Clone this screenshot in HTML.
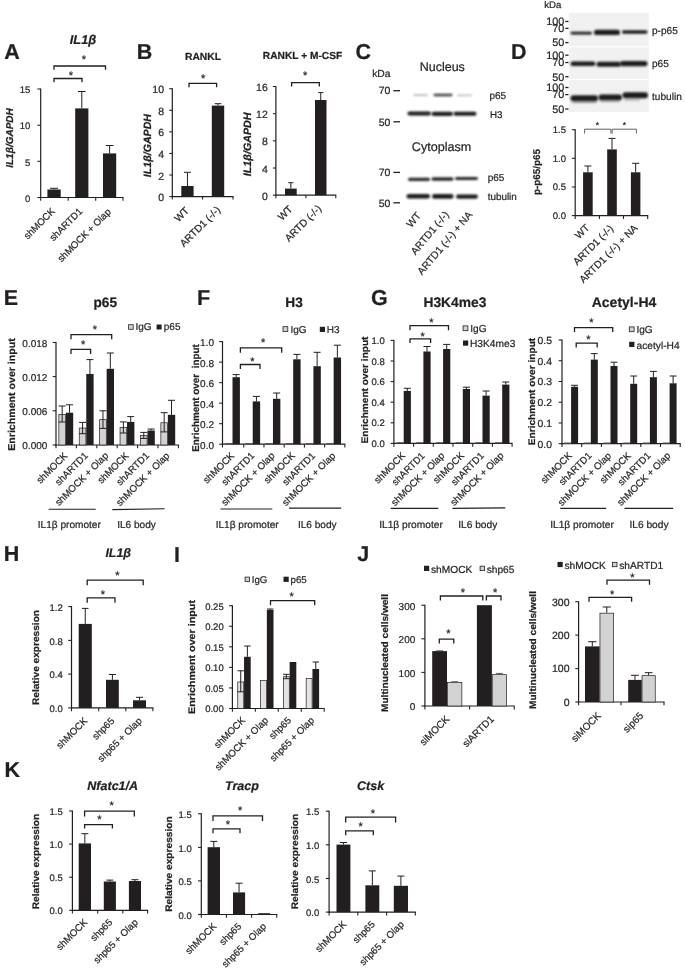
<!DOCTYPE html>
<html lang="en">
<head>
<meta charset="utf-8">
<title>Figure</title>
<style>
html,body{margin:0;padding:0;background:#fff;}
body{width:685px;height:974px;overflow:hidden;}
svg{display:block;font-family:"Liberation Sans",Arial,Helvetica,sans-serif;fill:#2b2829;}
svg text{stroke:#231f20;stroke-width:0.22px;text-rendering:geometricPrecision;}
</style>
</head>
<body>
<svg width="685" height="974" viewBox="0 0 685 974">
<defs><filter id="b5" x="-20%" y="-150%" width="140%" height="400%"><feGaussianBlur stdDeviation="0.5"/></filter><filter id="b7" x="-20%" y="-150%" width="140%" height="400%"><feGaussianBlur stdDeviation="0.7"/></filter><filter id="b9" x="-20%" y="-150%" width="140%" height="400%"><feGaussianBlur stdDeviation="0.9"/></filter><filter id="b12" x="-20%" y="-150%" width="140%" height="400%"><feGaussianBlur stdDeviation="1.2"/></filter></defs>
<rect x="0" y="0" width="685" height="974" fill="#ffffff"/>
<g opacity="0.999">
<text x="4.3" y="58.8" font-size="21.5" font-weight="bold" fill="#231f20">A</text>
<text x="83" y="43.8" font-size="12.8" text-anchor="middle" font-weight="bold" font-style="italic" fill="#231f20">IL1β</text>
<line x1="40.7" y1="88.5" x2="40.7" y2="198" stroke="#231f20" stroke-width="1.2"/>
<line x1="40.2" y1="197.5" x2="123.5" y2="197.5" stroke="#231f20" stroke-width="1.2"/>
<line x1="37.4" y1="89" x2="40.7" y2="89" stroke="#231f20" stroke-width="1.08"/>
<text x="30.4" y="93.22" font-size="9.5" text-anchor="end">15</text>
<line x1="37.4" y1="125.2" x2="40.7" y2="125.2" stroke="#231f20" stroke-width="1.08"/>
<text x="30.4" y="129.42" font-size="9.5" text-anchor="end">10</text>
<line x1="37.4" y1="161.3" x2="40.7" y2="161.3" stroke="#231f20" stroke-width="1.08"/>
<text x="30.4" y="165.52" font-size="9.5" text-anchor="end">5</text>
<line x1="37.4" y1="197.5" x2="40.7" y2="197.5" stroke="#231f20" stroke-width="1.08"/>
<text x="30.4" y="201.72" font-size="9.5" text-anchor="end">0</text>
<line x1="40.7" y1="197.5" x2="40.7" y2="200.8" stroke="#231f20" stroke-width="1.08"/>
<line x1="68.2" y1="197.5" x2="68.2" y2="200.8" stroke="#231f20" stroke-width="1.08"/>
<line x1="95.7" y1="197.5" x2="95.7" y2="200.8" stroke="#231f20" stroke-width="1.08"/>
<line x1="123" y1="197.5" x2="123" y2="200.8" stroke="#231f20" stroke-width="1.08"/>
<rect x="47.4" y="189.5" width="13.3" height="8" fill="#231f20"/>
<line x1="54.05" y1="188.3" x2="54.05" y2="189.5" stroke="#231f20" stroke-width="1"/>
<line x1="50.05" y1="188.3" x2="58.05" y2="188.3" stroke="#231f20" stroke-width="1"/>
<rect x="75.2" y="108.4" width="13.2" height="89.1" fill="#231f20"/>
<line x1="81.8" y1="91.5" x2="81.8" y2="108.4" stroke="#231f20" stroke-width="1"/>
<line x1="78" y1="91.5" x2="85.6" y2="91.5" stroke="#231f20" stroke-width="1"/>
<rect x="103" y="153.4" width="13.2" height="44.1" fill="#231f20"/>
<line x1="109.6" y1="145.5" x2="109.6" y2="153.4" stroke="#231f20" stroke-width="1"/>
<line x1="105.8" y1="145.5" x2="113.4" y2="145.5" stroke="#231f20" stroke-width="1"/>
<polyline points="54,69.8 54,66 105.5,66 105.5,69.8" fill="none" stroke="#231f20" stroke-width="1.3"/>
<text x="84" y="63.38" font-size="11" text-anchor="middle" fill="#231f20">*</text>
<polyline points="54,82.3 54,78.5 82,78.5 82,82.3" fill="none" stroke="#231f20" stroke-width="1.3"/>
<text x="71" y="79.38" font-size="11" text-anchor="middle" fill="#231f20">*</text>
<text x="13.1" y="138" font-size="10" text-anchor="middle" font-weight="bold" font-style="italic" transform="rotate(-90 13.1 138)" fill="#231f20">IL1β/GAPDH</text>
<text x="55.5" y="212" font-size="9.7" text-anchor="end" transform="rotate(-45 55.5 212)">shMOCK</text>
<text x="83" y="212" font-size="9.7" text-anchor="end" transform="rotate(-45 83 212)">shARTD1</text>
<text x="111.5" y="212.5" font-size="9.7" text-anchor="end" transform="rotate(-45 111.5 212.5)">shMOCK + Olap</text>
<text x="136.8" y="59" font-size="21.5" font-weight="bold" fill="#231f20">B</text>
<text x="203" y="59.9" font-size="10.3" text-anchor="middle" font-weight="bold" fill="#231f20">RANKL</text>
<text x="302.5" y="59" font-size="10.2" text-anchor="middle" font-weight="bold" fill="#231f20">RANKL + M-CSF</text>
<line x1="172.3" y1="88.2" x2="172.3" y2="197.1" stroke="#231f20" stroke-width="1.2"/>
<line x1="171.8" y1="196.6" x2="233.5" y2="196.6" stroke="#231f20" stroke-width="1.2"/>
<line x1="169.3" y1="88.7" x2="172.3" y2="88.7" stroke="#231f20" stroke-width="1.08"/>
<text x="164" y="93.28" font-size="10.5" text-anchor="end">10</text>
<line x1="169.3" y1="110.28" x2="172.3" y2="110.28" stroke="#231f20" stroke-width="1.08"/>
<text x="164" y="114.86" font-size="10.5" text-anchor="end">8</text>
<line x1="169.3" y1="131.86" x2="172.3" y2="131.86" stroke="#231f20" stroke-width="1.08"/>
<text x="164" y="136.44" font-size="10.5" text-anchor="end">6</text>
<line x1="169.3" y1="153.44" x2="172.3" y2="153.44" stroke="#231f20" stroke-width="1.08"/>
<text x="164" y="158.02" font-size="10.5" text-anchor="end">4</text>
<line x1="169.3" y1="175.02" x2="172.3" y2="175.02" stroke="#231f20" stroke-width="1.08"/>
<text x="164" y="179.6" font-size="10.5" text-anchor="end">2</text>
<line x1="169.3" y1="196.6" x2="172.3" y2="196.6" stroke="#231f20" stroke-width="1.08"/>
<text x="164" y="201.18" font-size="10.5" text-anchor="end">0</text>
<line x1="172.3" y1="196.6" x2="172.3" y2="199.6" stroke="#231f20" stroke-width="1.08"/>
<line x1="202.6" y1="196.6" x2="202.6" y2="199.6" stroke="#231f20" stroke-width="1.08"/>
<line x1="233" y1="196.6" x2="233" y2="199.6" stroke="#231f20" stroke-width="1.08"/>
<rect x="181.3" y="186" width="12.3" height="10.6" fill="#231f20"/>
<line x1="187.45" y1="172.3" x2="187.45" y2="186" stroke="#231f20" stroke-width="1"/>
<line x1="184.05" y1="172.3" x2="190.85" y2="172.3" stroke="#231f20" stroke-width="1"/>
<rect x="211.8" y="105.6" width="12.4" height="91" fill="#231f20"/>
<line x1="218" y1="103.7" x2="218" y2="105.6" stroke="#231f20" stroke-width="1"/>
<line x1="214.7" y1="103.7" x2="221.3" y2="103.7" stroke="#231f20" stroke-width="1"/>
<polyline points="189,87.3 189,83.3 216.6,83.3 216.6,87.3" fill="none" stroke="#231f20" stroke-width="1.3"/>
<text x="203.2" y="81.58" font-size="11" text-anchor="middle" fill="#231f20">*</text>
<text x="150.8" y="145.6" font-size="10.6" text-anchor="middle" font-weight="bold" font-style="italic" transform="rotate(-90 150.8 145.6)" fill="#231f20">IL1β/GAPDH</text>
<text x="189.6" y="211.4" font-size="10.2" text-anchor="end" transform="rotate(-45 189.6 211.4)">WT</text>
<text x="221" y="210.4" font-size="10.2" text-anchor="end" transform="rotate(-45 221 210.4)">ARTD1 (-/-)</text>
<line x1="275.9" y1="86" x2="275.9" y2="195.7" stroke="#231f20" stroke-width="1.2"/>
<line x1="275.4" y1="195.2" x2="336.3" y2="195.2" stroke="#231f20" stroke-width="1.2"/>
<line x1="272.9" y1="86.5" x2="275.9" y2="86.5" stroke="#231f20" stroke-width="1.08"/>
<text x="267.8" y="91.08" font-size="10.5" text-anchor="end">16</text>
<line x1="272.9" y1="113.67" x2="275.9" y2="113.67" stroke="#231f20" stroke-width="1.08"/>
<text x="267.8" y="118.25" font-size="10.5" text-anchor="end">12</text>
<line x1="272.9" y1="140.85" x2="275.9" y2="140.85" stroke="#231f20" stroke-width="1.08"/>
<text x="267.8" y="145.43" font-size="10.5" text-anchor="end">8</text>
<line x1="272.9" y1="168.02" x2="275.9" y2="168.02" stroke="#231f20" stroke-width="1.08"/>
<text x="267.8" y="172.6" font-size="10.5" text-anchor="end">4</text>
<line x1="272.9" y1="195.2" x2="275.9" y2="195.2" stroke="#231f20" stroke-width="1.08"/>
<text x="267.8" y="199.78" font-size="10.5" text-anchor="end">0</text>
<line x1="275.9" y1="195.2" x2="275.9" y2="198.2" stroke="#231f20" stroke-width="1.08"/>
<line x1="305.9" y1="195.2" x2="305.9" y2="198.2" stroke="#231f20" stroke-width="1.08"/>
<line x1="335.8" y1="195.2" x2="335.8" y2="198.2" stroke="#231f20" stroke-width="1.08"/>
<rect x="285" y="188.6" width="11.7" height="6.6" fill="#231f20"/>
<line x1="290.85" y1="182.7" x2="290.85" y2="188.6" stroke="#231f20" stroke-width="1"/>
<line x1="288.25" y1="182.7" x2="293.45" y2="182.7" stroke="#231f20" stroke-width="1"/>
<rect x="315" y="100" width="11.5" height="95.2" fill="#231f20"/>
<line x1="320.75" y1="92.6" x2="320.75" y2="100" stroke="#231f20" stroke-width="1"/>
<line x1="318.15" y1="92.6" x2="323.35" y2="92.6" stroke="#231f20" stroke-width="1"/>
<polyline points="291.6,86.6 291.6,82.6 319.3,82.6 319.3,86.6" fill="none" stroke="#231f20" stroke-width="1.3"/>
<text x="305.2" y="78.78" font-size="11" text-anchor="middle" fill="#231f20">*</text>
<text x="251.2" y="144.3" font-size="10.7" text-anchor="middle" font-weight="bold" font-style="italic" transform="rotate(-90 251.2 144.3)" fill="#231f20">IL1β/GAPDH</text>
<text x="293.2" y="209.8" font-size="10.2" text-anchor="end" transform="rotate(-45 293.2 209.8)">WT</text>
<text x="322" y="209.2" font-size="10.2" text-anchor="end" transform="rotate(-45 322 209.2)">ARTD (-/-)</text>
<text x="355.5" y="59" font-size="21.5" font-weight="bold" fill="#231f20">C</text>
<text x="442.3" y="70.8" font-size="12.5" text-anchor="middle">Nucleus</text>
<text x="372.2" y="76.8" font-size="10.3">kDa</text>
<text x="390.4" y="94.48" font-size="10.5" text-anchor="end">70</text>
<line x1="393.4" y1="90.7" x2="400" y2="90.7" stroke="#231f20" stroke-width="1.3"/>
<text x="390.4" y="125.58" font-size="10.5" text-anchor="end">50</text>
<line x1="393.4" y1="121.8" x2="400" y2="121.8" stroke="#231f20" stroke-width="1.3"/>
<text x="390.4" y="176.18" font-size="10.5" text-anchor="end">70</text>
<line x1="393.4" y1="172.4" x2="400" y2="172.4" stroke="#231f20" stroke-width="1.3"/>
<text x="390.4" y="206.58" font-size="10.5" text-anchor="end">50</text>
<line x1="393.4" y1="202.8" x2="400" y2="202.8" stroke="#231f20" stroke-width="1.3"/>
<rect x="413" y="94.3" width="15" height="1.8" rx="0.9" fill="#1c1a1b" opacity="0.3" filter="url(#b9)"/>
<rect x="433.5" y="93.7" width="19" height="2.6" rx="1.3" fill="#1c1a1b" opacity="0.85" filter="url(#b9)"/>
<rect x="457" y="94.6" width="15" height="1.6" rx="0.8" fill="#1c1a1b" opacity="0.28" filter="url(#b9)"/>
<rect x="407.5" y="111.4" width="23.5" height="4.2" rx="2.1" fill="#1c1a1b" opacity="1" filter="url(#b9)"/>
<rect x="431.5" y="111.7" width="21.5" height="4.2" rx="2.1" fill="#1c1a1b" opacity="1" filter="url(#b9)"/>
<rect x="453.5" y="111.8" width="23" height="4" rx="2" fill="#1c1a1b" opacity="1" filter="url(#b9)"/>
<text x="489.5" y="99.2" font-size="10">p65</text>
<text x="490" y="117.6" font-size="9.8">H3</text>
<text x="441.6" y="151.4" font-size="12.6" text-anchor="middle">Cytoplasm</text>
<rect x="408" y="177.7" width="22" height="3.2" rx="1.6" fill="#1c1a1b" opacity="0.95" filter="url(#b9)"/>
<rect x="431.5" y="177.3" width="22" height="3.4" rx="1.7" fill="#1c1a1b" opacity="0.95" filter="url(#b9)"/>
<rect x="455" y="176.9" width="23" height="3.2" rx="1.6" fill="#1c1a1b" opacity="0.95" filter="url(#b9)"/>
<rect x="406.5" y="193.9" width="23.5" height="4.6" rx="2.3" fill="#1c1a1b" opacity="1" filter="url(#b9)"/>
<rect x="432" y="194.1" width="21.5" height="4.6" rx="2.3" fill="#1c1a1b" opacity="1" filter="url(#b9)"/>
<rect x="456" y="194.5" width="22" height="4.2" rx="2.1" fill="#1c1a1b" opacity="1" filter="url(#b9)"/>
<text x="487.7" y="181.2" font-size="10">p65</text>
<text x="487.7" y="199.8" font-size="9.9">tubulin</text>
<text x="421.5" y="216" font-size="10.3" text-anchor="end" transform="rotate(-50 421.5 216)">WT</text>
<text x="449.5" y="214.8" font-size="10.3" text-anchor="end" transform="rotate(-50 449.5 214.8)">ARTD1 (-/-)</text>
<text x="472.8" y="215" font-size="10.3" text-anchor="end" transform="rotate(-50 472.8 215)">ARTD1 (-/-) + NA</text>
<text x="511" y="58.5" font-size="21.5" font-weight="bold" fill="#231f20">D</text>
<text x="544.3" y="8" font-size="9.6">kDa</text>
<rect x="568.8" y="13" width="80" height="33.2" fill="#f1f1f1"/>
<rect x="568.8" y="47.4" width="80" height="31.6" fill="#f1f1f1"/>
<rect x="568.8" y="80.2" width="80" height="31.8" fill="#f1f1f1"/>
<text x="564.3" y="25.39" font-size="10.8" text-anchor="end">100</text>
<line x1="565.3" y1="21.5" x2="568.5" y2="21.5" stroke="#231f20" stroke-width="1.3"/>
<text x="564.3" y="32.29" font-size="10.8" text-anchor="end">70</text>
<line x1="565.3" y1="28.4" x2="568.5" y2="28.4" stroke="#231f20" stroke-width="1.3"/>
<text x="564.3" y="46.49" font-size="10.8" text-anchor="end">50</text>
<line x1="565.3" y1="42.6" x2="568.5" y2="42.6" stroke="#231f20" stroke-width="1.3"/>
<text x="564.3" y="59.09" font-size="10.8" text-anchor="end">100</text>
<line x1="565.3" y1="55.2" x2="568.5" y2="55.2" stroke="#231f20" stroke-width="1.3"/>
<text x="564.3" y="66.39" font-size="10.8" text-anchor="end">70</text>
<line x1="565.3" y1="62.5" x2="568.5" y2="62.5" stroke="#231f20" stroke-width="1.3"/>
<text x="564.3" y="80.59" font-size="10.8" text-anchor="end">50</text>
<line x1="565.3" y1="76.7" x2="568.5" y2="76.7" stroke="#231f20" stroke-width="1.3"/>
<text x="564.3" y="91.39" font-size="10.8" text-anchor="end">100</text>
<line x1="565.3" y1="87.5" x2="568.5" y2="87.5" stroke="#231f20" stroke-width="1.3"/>
<text x="564.3" y="98.49" font-size="10.8" text-anchor="end">70</text>
<line x1="565.3" y1="94.6" x2="568.5" y2="94.6" stroke="#231f20" stroke-width="1.3"/>
<text x="564.3" y="112.89" font-size="10.8" text-anchor="end">50</text>
<line x1="565.3" y1="109" x2="568.5" y2="109" stroke="#231f20" stroke-width="1.3"/>
<rect x="570.5" y="31.65" width="21.5" height="2.9" rx="1.45" fill="#1c1a1b" opacity="1" filter="url(#b9)"/>
<rect x="594" y="29.7" width="26" height="5.4" rx="2.7" fill="#1c1a1b" opacity="1" filter="url(#b9)"/>
<rect x="622" y="30.3" width="25.5" height="3.4" rx="1.7" fill="#1c1a1b" opacity="1" filter="url(#b9)"/>
<rect x="570.5" y="61.5" width="25" height="4.6" rx="2.3" fill="#1c1a1b" opacity="1" filter="url(#b9)"/>
<rect x="596.5" y="61.7" width="24.5" height="5" rx="2.5" fill="#1c1a1b" opacity="1" filter="url(#b9)"/>
<rect x="620" y="61" width="27.5" height="5.2" rx="2.6" fill="#1c1a1b" opacity="1" filter="url(#b9)"/>
<rect x="570.5" y="95.3" width="27.5" height="6" rx="3" fill="#1c1a1b" opacity="1" filter="url(#b9)"/>
<rect x="598.5" y="94.6" width="23.5" height="5.6" rx="2.8" fill="#1c1a1b" opacity="1" filter="url(#b9)"/>
<rect x="622.5" y="92.2" width="25.5" height="6" rx="3" fill="#1c1a1b" opacity="1" filter="url(#b9)"/>
<rect x="572" y="101.4" width="25" height="1.6" rx="0.8" fill="#1c1a1b" opacity="0.45" filter="url(#b9)"/>
<rect x="600" y="100.5" width="20" height="1.6" rx="0.8" fill="#1c1a1b" opacity="0.4" filter="url(#b9)"/>
<rect x="624" y="99.1" width="16" height="1.4" rx="0.7" fill="#1c1a1b" opacity="0.35" filter="url(#b9)"/>
<text x="652" y="33.8" font-size="10.1">p-p65</text>
<text x="652" y="66.6" font-size="10.1">p65</text>
<text x="652" y="99.6" font-size="10.1">tubulin</text>
<line x1="575.2" y1="129.2" x2="575.2" y2="216.1" stroke="#231f20" stroke-width="1.2"/>
<line x1="574.7" y1="215.6" x2="648.2" y2="215.6" stroke="#231f20" stroke-width="1.2"/>
<line x1="571.9" y1="129.7" x2="575.2" y2="129.7" stroke="#231f20" stroke-width="1.08"/>
<text x="566" y="133.12" font-size="9.5" text-anchor="end">1.5</text>
<line x1="571.9" y1="158.3" x2="575.2" y2="158.3" stroke="#231f20" stroke-width="1.08"/>
<text x="566" y="161.72" font-size="9.5" text-anchor="end">1.0</text>
<line x1="571.9" y1="187" x2="575.2" y2="187" stroke="#231f20" stroke-width="1.08"/>
<text x="566" y="190.42" font-size="9.5" text-anchor="end">0.5</text>
<line x1="571.9" y1="215.6" x2="575.2" y2="215.6" stroke="#231f20" stroke-width="1.08"/>
<text x="566" y="219.02" font-size="9.5" text-anchor="end">0.0</text>
<line x1="575.2" y1="215.6" x2="575.2" y2="218.9" stroke="#231f20" stroke-width="1.08"/>
<line x1="599.4" y1="215.6" x2="599.4" y2="218.9" stroke="#231f20" stroke-width="1.08"/>
<line x1="623.5" y1="215.6" x2="623.5" y2="218.9" stroke="#231f20" stroke-width="1.08"/>
<line x1="647.7" y1="215.6" x2="647.7" y2="218.9" stroke="#231f20" stroke-width="1.08"/>
<rect x="583.1" y="172.3" width="9.6" height="43.3" fill="#231f20"/>
<line x1="587.9" y1="166" x2="587.9" y2="172.3" stroke="#231f20" stroke-width="1"/>
<line x1="584.4" y1="166" x2="591.4" y2="166" stroke="#231f20" stroke-width="1"/>
<rect x="607.2" y="149.4" width="9.6" height="66.2" fill="#231f20"/>
<line x1="612" y1="138.4" x2="612" y2="149.4" stroke="#231f20" stroke-width="1"/>
<line x1="608.5" y1="138.4" x2="615.5" y2="138.4" stroke="#231f20" stroke-width="1"/>
<rect x="630.9" y="172.3" width="9.5" height="43.3" fill="#231f20"/>
<line x1="635.65" y1="163.3" x2="635.65" y2="172.3" stroke="#231f20" stroke-width="1"/>
<line x1="632.15" y1="163.3" x2="639.15" y2="163.3" stroke="#231f20" stroke-width="1"/>
<polyline points="584.6,133.6 584.6,129.2 610.9,129.2 610.9,133.6" fill="none" stroke="#231f20" stroke-width="0.7"/>
<text x="597.5" y="127.93" font-size="8.5" text-anchor="middle" fill="#231f20">*</text>
<polyline points="612.2,133.6 612.2,129.2 636.4,129.2 636.4,133.6" fill="none" stroke="#231f20" stroke-width="0.7"/>
<text x="624.5" y="127.93" font-size="8.5" text-anchor="middle" fill="#231f20">*</text>
<text x="540" y="172" font-size="9.8" text-anchor="middle" font-weight="bold" transform="rotate(-90 540 172)" fill="#231f20">p-p65/p65</text>
<text x="590" y="228.5" font-size="10.1" text-anchor="end" transform="rotate(-45 590 228.5)">WT</text>
<text x="614" y="229" font-size="10.1" text-anchor="end" transform="rotate(-45 614 229)">ARTD1 (-/-)</text>
<text x="638.4" y="228.7" font-size="10.1" text-anchor="end" transform="rotate(-45 638.4 228.7)">ARTD1 (-/-) + NA</text>
<text x="3.8" y="305" font-size="21.5" font-weight="bold" fill="#231f20">E</text>
<text x="105.3" y="306.7" font-size="13.7" text-anchor="middle" font-weight="bold" fill="#231f20">p65</text>
<line x1="56" y1="342" x2="56" y2="445.5" stroke="#231f20" stroke-width="1.2"/>
<line x1="55.5" y1="445" x2="178.9" y2="445" stroke="#231f20" stroke-width="1.2"/>
<line x1="52.7" y1="342.5" x2="56" y2="342.5" stroke="#231f20" stroke-width="1.08"/>
<text x="47.4" y="346.9" font-size="10" text-anchor="end">0.018</text>
<line x1="52.7" y1="376.6" x2="56" y2="376.6" stroke="#231f20" stroke-width="1.08"/>
<text x="47.4" y="381" font-size="10" text-anchor="end">0.012</text>
<line x1="52.7" y1="410.8" x2="56" y2="410.8" stroke="#231f20" stroke-width="1.08"/>
<text x="47.4" y="415.2" font-size="10" text-anchor="end">0.006</text>
<line x1="52.7" y1="445" x2="56" y2="445" stroke="#231f20" stroke-width="1.08"/>
<text x="47.4" y="449.4" font-size="10" text-anchor="end">0.000</text>
<line x1="56" y1="445" x2="56" y2="448.3" stroke="#231f20" stroke-width="1.08"/>
<line x1="76.4" y1="445" x2="76.4" y2="448.3" stroke="#231f20" stroke-width="1.08"/>
<line x1="96.8" y1="445" x2="96.8" y2="448.3" stroke="#231f20" stroke-width="1.08"/>
<line x1="117.2" y1="445" x2="117.2" y2="448.3" stroke="#231f20" stroke-width="1.08"/>
<line x1="137.6" y1="445" x2="137.6" y2="448.3" stroke="#231f20" stroke-width="1.08"/>
<line x1="158" y1="445" x2="158" y2="448.3" stroke="#231f20" stroke-width="1.08"/>
<line x1="178.4" y1="445" x2="178.4" y2="448.3" stroke="#231f20" stroke-width="1.08"/>
<rect x="58.85" y="414.35" width="6.65" height="30.65" fill="#d2d2d2" stroke="#231f20" stroke-width="0.7"/>
<line x1="62.17" y1="406" x2="62.17" y2="422" stroke="#231f20" stroke-width="1"/>
<line x1="58.67" y1="406" x2="65.67" y2="406" stroke="#231f20" stroke-width="1"/>
<line x1="58.67" y1="422" x2="65.67" y2="422" stroke="#231f20" stroke-width="1"/>
<rect x="65.85" y="412.7" width="7.35" height="32.3" fill="#231f20"/>
<line x1="69.53" y1="404.8" x2="69.53" y2="412.7" stroke="#231f20" stroke-width="1"/>
<line x1="66.03" y1="404.8" x2="73.03" y2="404.8" stroke="#231f20" stroke-width="1"/>
<rect x="79.25" y="428.05" width="6.65" height="16.95" fill="#d2d2d2" stroke="#231f20" stroke-width="0.7"/>
<line x1="82.58" y1="422.4" x2="82.58" y2="433.7" stroke="#231f20" stroke-width="1"/>
<line x1="79.08" y1="422.4" x2="86.08" y2="422.4" stroke="#231f20" stroke-width="1"/>
<line x1="79.08" y1="433.7" x2="86.08" y2="433.7" stroke="#231f20" stroke-width="1"/>
<rect x="86.25" y="374" width="7.35" height="71" fill="#231f20"/>
<line x1="89.93" y1="359.6" x2="89.93" y2="374" stroke="#231f20" stroke-width="1"/>
<line x1="86.43" y1="359.6" x2="93.43" y2="359.6" stroke="#231f20" stroke-width="1"/>
<rect x="99.65" y="419.65" width="6.65" height="25.35" fill="#d2d2d2" stroke="#231f20" stroke-width="0.7"/>
<line x1="102.97" y1="410.8" x2="102.97" y2="428.4" stroke="#231f20" stroke-width="1"/>
<line x1="99.47" y1="410.8" x2="106.47" y2="410.8" stroke="#231f20" stroke-width="1"/>
<line x1="99.47" y1="428.4" x2="106.47" y2="428.4" stroke="#231f20" stroke-width="1"/>
<rect x="106.65" y="368.8" width="7.35" height="76.2" fill="#231f20"/>
<line x1="110.32" y1="353" x2="110.32" y2="368.8" stroke="#231f20" stroke-width="1"/>
<line x1="106.82" y1="353" x2="113.82" y2="353" stroke="#231f20" stroke-width="1"/>
<rect x="120.05" y="427.35" width="6.65" height="17.65" fill="#d2d2d2" stroke="#231f20" stroke-width="0.7"/>
<line x1="123.37" y1="421.9" x2="123.37" y2="433" stroke="#231f20" stroke-width="1"/>
<line x1="119.87" y1="421.9" x2="126.87" y2="421.9" stroke="#231f20" stroke-width="1"/>
<line x1="119.87" y1="433" x2="126.87" y2="433" stroke="#231f20" stroke-width="1"/>
<rect x="127.05" y="421.9" width="7.35" height="23.1" fill="#231f20"/>
<line x1="130.72" y1="416.6" x2="130.72" y2="421.9" stroke="#231f20" stroke-width="1"/>
<line x1="127.22" y1="416.6" x2="134.22" y2="416.6" stroke="#231f20" stroke-width="1"/>
<rect x="140.45" y="435.35" width="6.65" height="9.65" fill="#d2d2d2" stroke="#231f20" stroke-width="0.7"/>
<line x1="143.77" y1="432.4" x2="143.77" y2="438.4" stroke="#231f20" stroke-width="1"/>
<line x1="140.27" y1="432.4" x2="147.27" y2="432.4" stroke="#231f20" stroke-width="1"/>
<line x1="140.27" y1="438.4" x2="147.27" y2="438.4" stroke="#231f20" stroke-width="1"/>
<rect x="147.45" y="430.5" width="7.35" height="14.5" fill="#231f20"/>
<line x1="151.12" y1="429" x2="151.12" y2="430.5" stroke="#231f20" stroke-width="1"/>
<line x1="147.62" y1="429" x2="154.62" y2="429" stroke="#231f20" stroke-width="1"/>
<rect x="160.85" y="422.75" width="6.65" height="22.25" fill="#d2d2d2" stroke="#231f20" stroke-width="0.7"/>
<line x1="164.18" y1="412.7" x2="164.18" y2="431.9" stroke="#231f20" stroke-width="1"/>
<line x1="160.68" y1="412.7" x2="167.68" y2="412.7" stroke="#231f20" stroke-width="1"/>
<line x1="160.68" y1="431.9" x2="167.68" y2="431.9" stroke="#231f20" stroke-width="1"/>
<rect x="167.85" y="414.8" width="7.35" height="30.2" fill="#231f20"/>
<line x1="171.52" y1="400.3" x2="171.52" y2="414.8" stroke="#231f20" stroke-width="1"/>
<line x1="168.02" y1="400.3" x2="175.02" y2="400.3" stroke="#231f20" stroke-width="1"/>
<polyline points="71,339.2 71,334.6 111.7,334.6 111.7,339.2" fill="none" stroke="#231f20" stroke-width="1.3"/>
<text x="95" y="332.98" font-size="11" text-anchor="middle" fill="#231f20">*</text>
<polyline points="71,354 71,349.4 90.6,349.4 90.6,354" fill="none" stroke="#231f20" stroke-width="1.3"/>
<text x="83.2" y="347.78" font-size="11" text-anchor="middle" fill="#231f20">*</text>
<rect x="128.6" y="324.7" width="4.6" height="4.6" fill="#d2d2d2" stroke="#231f20" stroke-width="0.8"/>
<text x="135.4" y="330.3" font-size="10">IgG</text>
<rect x="156.6" y="324.5" width="5" height="5" fill="#231f20"/>
<text x="163.8" y="330.3" font-size="10">p65</text>
<text x="15.4" y="394.5" font-size="10" text-anchor="middle" font-weight="bold" transform="rotate(-90 15.4 394.5)" fill="#231f20" textLength="112.5" lengthAdjust="spacingAndGlyphs">Enrichment over input</text>
<text x="68.2" y="456.3" font-size="9.7" text-anchor="end" transform="rotate(-45 68.2 456.3)">shMOCK</text>
<text x="88.6" y="456.3" font-size="9.7" text-anchor="end" transform="rotate(-45 88.6 456.3)">shARTD1</text>
<text x="109" y="456.3" font-size="9.7" text-anchor="end" transform="rotate(-45 109 456.3)">shMOCK + Olap</text>
<text x="129.4" y="456.3" font-size="9.7" text-anchor="end" transform="rotate(-45 129.4 456.3)">shMOCK</text>
<text x="149.8" y="456.3" font-size="9.7" text-anchor="end" transform="rotate(-45 149.8 456.3)">shARTD1</text>
<text x="170.2" y="456.3" font-size="9.7" text-anchor="end" transform="rotate(-45 170.2 456.3)">shMOCK + Olap</text>
<line x1="48.6" y1="509.3" x2="95.7" y2="509.3" stroke="#231f20" stroke-width="1.1"/>
<line x1="112.3" y1="509.6" x2="164.6" y2="508.8" stroke="#231f20" stroke-width="1.1"/>
<text x="69.3" y="527.8" font-size="10.1" text-anchor="middle">IL1β promoter</text>
<text x="136.5" y="527.8" font-size="10.1" text-anchor="middle">IL6 body</text>
<text x="197" y="305" font-size="21.5" font-weight="bold" fill="#231f20">F</text>
<text x="294" y="306.9" font-size="13.7" text-anchor="middle" font-weight="bold" fill="#231f20">H3</text>
<line x1="222.5" y1="341.1" x2="222.5" y2="444.7" stroke="#231f20" stroke-width="1.2"/>
<line x1="222" y1="444.2" x2="345.38" y2="444.2" stroke="#231f20" stroke-width="1.2"/>
<line x1="219.2" y1="341.6" x2="222.5" y2="341.6" stroke="#231f20" stroke-width="1.08"/>
<text x="214" y="346" font-size="10" text-anchor="end">1.0</text>
<line x1="219.2" y1="362.12" x2="222.5" y2="362.12" stroke="#231f20" stroke-width="1.08"/>
<text x="214" y="366.52" font-size="10" text-anchor="end">0.8</text>
<line x1="219.2" y1="382.64" x2="222.5" y2="382.64" stroke="#231f20" stroke-width="1.08"/>
<text x="214" y="387.04" font-size="10" text-anchor="end">0.6</text>
<line x1="219.2" y1="403.16" x2="222.5" y2="403.16" stroke="#231f20" stroke-width="1.08"/>
<text x="214" y="407.56" font-size="10" text-anchor="end">0.4</text>
<line x1="219.2" y1="423.68" x2="222.5" y2="423.68" stroke="#231f20" stroke-width="1.08"/>
<text x="214" y="428.08" font-size="10" text-anchor="end">0.2</text>
<line x1="219.2" y1="444.2" x2="222.5" y2="444.2" stroke="#231f20" stroke-width="1.08"/>
<text x="214" y="448.6" font-size="10" text-anchor="end">0.0</text>
<line x1="222.5" y1="444.2" x2="222.5" y2="447.5" stroke="#231f20" stroke-width="1.08"/>
<line x1="243.73" y1="444.2" x2="243.73" y2="447.5" stroke="#231f20" stroke-width="1.08"/>
<line x1="263.96" y1="444.2" x2="263.96" y2="447.5" stroke="#231f20" stroke-width="1.08"/>
<line x1="284.19" y1="444.2" x2="284.19" y2="447.5" stroke="#231f20" stroke-width="1.08"/>
<line x1="304.42" y1="444.2" x2="304.42" y2="447.5" stroke="#231f20" stroke-width="1.08"/>
<line x1="324.65" y1="444.2" x2="324.65" y2="447.5" stroke="#231f20" stroke-width="1.08"/>
<line x1="344.88" y1="444.2" x2="344.88" y2="447.5" stroke="#231f20" stroke-width="1.08"/>
<rect x="225.1" y="443" width="7.4" height="1.2" fill="#555"/>
<rect x="232.5" y="377.2" width="7.4" height="67" fill="#231f20"/>
<line x1="236.2" y1="374.6" x2="236.2" y2="377.2" stroke="#231f20" stroke-width="1"/>
<line x1="232.7" y1="374.6" x2="239.7" y2="374.6" stroke="#231f20" stroke-width="1"/>
<rect x="245.33" y="443" width="7.4" height="1.2" fill="#555"/>
<rect x="252.73" y="401.4" width="7.4" height="42.8" fill="#231f20"/>
<line x1="256.43" y1="396.4" x2="256.43" y2="401.4" stroke="#231f20" stroke-width="1"/>
<line x1="252.93" y1="396.4" x2="259.93" y2="396.4" stroke="#231f20" stroke-width="1"/>
<rect x="265.56" y="443" width="7.4" height="1.2" fill="#555"/>
<rect x="272.96" y="398.8" width="7.4" height="45.4" fill="#231f20"/>
<line x1="276.66" y1="393" x2="276.66" y2="398.8" stroke="#231f20" stroke-width="1"/>
<line x1="273.16" y1="393" x2="280.16" y2="393" stroke="#231f20" stroke-width="1"/>
<rect x="285.79" y="443" width="7.4" height="1.2" fill="#555"/>
<rect x="293.19" y="359.3" width="7.4" height="84.9" fill="#231f20"/>
<line x1="296.89" y1="354.4" x2="296.89" y2="359.3" stroke="#231f20" stroke-width="1"/>
<line x1="293.39" y1="354.4" x2="300.39" y2="354.4" stroke="#231f20" stroke-width="1"/>
<rect x="306.02" y="443" width="7.4" height="1.2" fill="#555"/>
<rect x="313.42" y="366.2" width="7.4" height="78" fill="#231f20"/>
<line x1="317.12" y1="352.3" x2="317.12" y2="366.2" stroke="#231f20" stroke-width="1"/>
<line x1="313.62" y1="352.3" x2="320.62" y2="352.3" stroke="#231f20" stroke-width="1"/>
<rect x="326.25" y="443" width="7.4" height="1.2" fill="#555"/>
<rect x="333.65" y="357.5" width="7.4" height="86.7" fill="#231f20"/>
<line x1="337.35" y1="345.2" x2="337.35" y2="357.5" stroke="#231f20" stroke-width="1"/>
<line x1="333.85" y1="345.2" x2="340.85" y2="345.2" stroke="#231f20" stroke-width="1"/>
<polyline points="240.4,352.8 240.4,347.8 281.7,347.8 281.7,352.8" fill="none" stroke="#231f20" stroke-width="1.3"/>
<text x="263.2" y="346.18" font-size="11" text-anchor="middle" fill="#231f20">*</text>
<polyline points="240.4,368.9 240.4,364.5 260,364.5 260,368.9" fill="none" stroke="#231f20" stroke-width="1.3"/>
<text x="252.3" y="364.98" font-size="11" text-anchor="middle" fill="#231f20">*</text>
<rect x="283" y="326.7" width="4.8" height="4.8" fill="#d2d2d2" stroke="#231f20" stroke-width="0.8"/>
<text x="290.4" y="332.6" font-size="10">IgG</text>
<rect x="319.8" y="326.8" width="5.2" height="5.2" fill="#231f20"/>
<text x="326.8" y="332.7" font-size="10">H3</text>
<text x="199.4" y="398" font-size="9.9" text-anchor="middle" font-weight="bold" transform="rotate(-90 199.4 398)" fill="#231f20">Enrichment over  input</text>
<text x="234.92" y="456.3" font-size="9.7" text-anchor="end" transform="rotate(-45 234.92 456.3)">shMOCK</text>
<text x="255.15" y="456.3" font-size="9.7" text-anchor="end" transform="rotate(-45 255.15 456.3)">shARTD1</text>
<text x="275.38" y="456.3" font-size="9.7" text-anchor="end" transform="rotate(-45 275.38 456.3)">shMOCK + Olap</text>
<text x="295.61" y="456.3" font-size="9.7" text-anchor="end" transform="rotate(-45 295.61 456.3)">shMOCK</text>
<text x="315.84" y="456.3" font-size="9.7" text-anchor="end" transform="rotate(-45 315.84 456.3)">shARTD1</text>
<text x="336.06" y="456.3" font-size="9.7" text-anchor="end" transform="rotate(-45 336.06 456.3)">shMOCK + Olap</text>
<line x1="220.5" y1="509" x2="272.3" y2="509" stroke="#231f20" stroke-width="1.1"/>
<line x1="289" y1="508.1" x2="341.2" y2="508.1" stroke="#231f20" stroke-width="1.1"/>
<text x="247.2" y="527.8" font-size="10.1" text-anchor="middle">IL1β promoter</text>
<text x="317.3" y="527.8" font-size="10.1" text-anchor="middle">IL6 body</text>
<text x="371" y="305" font-size="21.5" font-weight="bold" fill="#231f20">G</text>
<text x="454.9" y="306.8" font-size="13.8" text-anchor="middle" font-weight="bold" fill="#231f20">H3K4me3</text>
<line x1="393.9" y1="339.9" x2="393.9" y2="443.9" stroke="#231f20" stroke-width="1.2"/>
<line x1="393.4" y1="443.4" x2="512.6" y2="443.4" stroke="#231f20" stroke-width="1.2"/>
<line x1="390.6" y1="340.4" x2="393.9" y2="340.4" stroke="#231f20" stroke-width="1.08"/>
<text x="384.8" y="344.02" font-size="9.5" text-anchor="end">1.0</text>
<line x1="390.6" y1="361" x2="393.9" y2="361" stroke="#231f20" stroke-width="1.08"/>
<text x="384.8" y="364.62" font-size="9.5" text-anchor="end">0.8</text>
<line x1="390.6" y1="381.6" x2="393.9" y2="381.6" stroke="#231f20" stroke-width="1.08"/>
<text x="384.8" y="385.22" font-size="9.5" text-anchor="end">0.6</text>
<line x1="390.6" y1="402.2" x2="393.9" y2="402.2" stroke="#231f20" stroke-width="1.08"/>
<text x="384.8" y="405.82" font-size="9.5" text-anchor="end">0.4</text>
<line x1="390.6" y1="422.8" x2="393.9" y2="422.8" stroke="#231f20" stroke-width="1.08"/>
<text x="384.8" y="426.42" font-size="9.5" text-anchor="end">0.2</text>
<line x1="390.6" y1="443.4" x2="393.9" y2="443.4" stroke="#231f20" stroke-width="1.08"/>
<text x="384.8" y="447.02" font-size="9.5" text-anchor="end">0.0</text>
<line x1="393.9" y1="443.4" x2="393.9" y2="446.7" stroke="#231f20" stroke-width="1.08"/>
<line x1="413.6" y1="443.4" x2="413.6" y2="446.7" stroke="#231f20" stroke-width="1.08"/>
<line x1="433.3" y1="443.4" x2="433.3" y2="446.7" stroke="#231f20" stroke-width="1.08"/>
<line x1="453" y1="443.4" x2="453" y2="446.7" stroke="#231f20" stroke-width="1.08"/>
<line x1="472.7" y1="443.4" x2="472.7" y2="446.7" stroke="#231f20" stroke-width="1.08"/>
<line x1="492.4" y1="443.4" x2="492.4" y2="446.7" stroke="#231f20" stroke-width="1.08"/>
<line x1="512.1" y1="443.4" x2="512.1" y2="446.7" stroke="#231f20" stroke-width="1.08"/>
<rect x="396.5" y="442.2" width="7.2" height="1.2" fill="#555"/>
<rect x="403.7" y="390.9" width="7.2" height="52.5" fill="#231f20"/>
<line x1="407.3" y1="388.3" x2="407.3" y2="390.9" stroke="#231f20" stroke-width="1"/>
<line x1="403.8" y1="388.3" x2="410.8" y2="388.3" stroke="#231f20" stroke-width="1"/>
<rect x="416.2" y="442.2" width="7.2" height="1.2" fill="#555"/>
<rect x="423.4" y="351.5" width="7.2" height="91.9" fill="#231f20"/>
<line x1="427" y1="346.5" x2="427" y2="351.5" stroke="#231f20" stroke-width="1"/>
<line x1="423.5" y1="346.5" x2="430.5" y2="346.5" stroke="#231f20" stroke-width="1"/>
<rect x="435.9" y="442.2" width="7.2" height="1.2" fill="#555"/>
<rect x="443.1" y="349" width="7.2" height="94.4" fill="#231f20"/>
<line x1="446.7" y1="344.4" x2="446.7" y2="349" stroke="#231f20" stroke-width="1"/>
<line x1="443.2" y1="344.4" x2="450.2" y2="344.4" stroke="#231f20" stroke-width="1"/>
<rect x="455.6" y="442.2" width="7.2" height="1.2" fill="#555"/>
<rect x="462.8" y="389" width="7.2" height="54.4" fill="#231f20"/>
<line x1="466.4" y1="387.2" x2="466.4" y2="389" stroke="#231f20" stroke-width="1"/>
<line x1="462.9" y1="387.2" x2="469.9" y2="387.2" stroke="#231f20" stroke-width="1"/>
<rect x="475.3" y="442.2" width="7.2" height="1.2" fill="#555"/>
<rect x="482.5" y="395.6" width="7.2" height="47.8" fill="#231f20"/>
<line x1="486.1" y1="391" x2="486.1" y2="395.6" stroke="#231f20" stroke-width="1"/>
<line x1="482.6" y1="391" x2="489.6" y2="391" stroke="#231f20" stroke-width="1"/>
<rect x="495" y="442.2" width="7.2" height="1.2" fill="#555"/>
<rect x="502.2" y="384.6" width="7.2" height="58.8" fill="#231f20"/>
<line x1="505.8" y1="382" x2="505.8" y2="384.6" stroke="#231f20" stroke-width="1"/>
<line x1="502.3" y1="382" x2="509.3" y2="382" stroke="#231f20" stroke-width="1"/>
<polyline points="410,330.2 410,325.7 448.5,325.7 448.5,330.2" fill="none" stroke="#231f20" stroke-width="1.3"/>
<text x="431.4" y="325.78" font-size="11" text-anchor="middle" fill="#231f20">*</text>
<polyline points="410,342.9 410,338.9 430.6,338.9 430.6,342.9" fill="none" stroke="#231f20" stroke-width="1.3"/>
<text x="422.6" y="339.78" font-size="11" text-anchor="middle" fill="#231f20">*</text>
<rect x="463.1" y="325.9" width="4.8" height="4.8" fill="#d2d2d2" stroke="#231f20" stroke-width="0.8"/>
<text x="470.3" y="331.9" font-size="10.1">IgG</text>
<rect x="463" y="340.5" width="5.2" height="5.2" fill="#231f20"/>
<text x="470" y="347.2" font-size="10.2">H3K4me3</text>
<text x="367.6" y="390" font-size="9.5" text-anchor="middle" font-weight="bold" transform="rotate(-90 367.6 390)" fill="#231f20" textLength="107" lengthAdjust="spacingAndGlyphs">Enrichment over input</text>
<text x="405.75" y="456.3" font-size="9.7" text-anchor="end" transform="rotate(-45 405.75 456.3)">shMOCK</text>
<text x="425.45" y="456.3" font-size="9.7" text-anchor="end" transform="rotate(-45 425.45 456.3)">shARTD1</text>
<text x="445.15" y="456.3" font-size="9.7" text-anchor="end" transform="rotate(-45 445.15 456.3)">shMOCK + Olap</text>
<text x="464.85" y="456.3" font-size="9.7" text-anchor="end" transform="rotate(-45 464.85 456.3)">shMOCK</text>
<text x="484.55" y="456.3" font-size="9.7" text-anchor="end" transform="rotate(-45 484.55 456.3)">shARTD1</text>
<text x="504.25" y="456.3" font-size="9.7" text-anchor="end" transform="rotate(-45 504.25 456.3)">shMOCK + Olap</text>
<line x1="390.7" y1="508.4" x2="438.3" y2="508.4" stroke="#231f20" stroke-width="1.1"/>
<line x1="452.5" y1="508.4" x2="505.3" y2="507.9" stroke="#231f20" stroke-width="1.1"/>
<text x="411" y="527.8" font-size="10.2" text-anchor="middle">IL1β promoter</text>
<text x="477.7" y="527.8" font-size="10.2" text-anchor="middle">IL6 body</text>
<text x="624" y="306.8" font-size="14" text-anchor="middle" font-weight="bold" fill="#231f20">Acetyl-H4</text>
<line x1="562" y1="339.5" x2="562" y2="444.2" stroke="#231f20" stroke-width="1.2"/>
<line x1="561.5" y1="443.7" x2="680.7" y2="443.7" stroke="#231f20" stroke-width="1.2"/>
<line x1="558.7" y1="340" x2="562" y2="340" stroke="#231f20" stroke-width="1.08"/>
<text x="552" y="343.94" font-size="10.4" text-anchor="end">0.5</text>
<line x1="558.7" y1="360.74" x2="562" y2="360.74" stroke="#231f20" stroke-width="1.08"/>
<text x="552" y="364.68" font-size="10.4" text-anchor="end">0.4</text>
<line x1="558.7" y1="381.48" x2="562" y2="381.48" stroke="#231f20" stroke-width="1.08"/>
<text x="552" y="385.42" font-size="10.4" text-anchor="end">0.3</text>
<line x1="558.7" y1="402.22" x2="562" y2="402.22" stroke="#231f20" stroke-width="1.08"/>
<text x="552" y="406.16" font-size="10.4" text-anchor="end">0.2</text>
<line x1="558.7" y1="422.96" x2="562" y2="422.96" stroke="#231f20" stroke-width="1.08"/>
<text x="552" y="426.9" font-size="10.4" text-anchor="end">0.1</text>
<line x1="558.7" y1="443.7" x2="562" y2="443.7" stroke="#231f20" stroke-width="1.08"/>
<text x="552" y="447.64" font-size="10.4" text-anchor="end">0.0</text>
<line x1="562" y1="443.7" x2="562" y2="447" stroke="#231f20" stroke-width="1.08"/>
<line x1="581.7" y1="443.7" x2="581.7" y2="447" stroke="#231f20" stroke-width="1.08"/>
<line x1="601.4" y1="443.7" x2="601.4" y2="447" stroke="#231f20" stroke-width="1.08"/>
<line x1="621.1" y1="443.7" x2="621.1" y2="447" stroke="#231f20" stroke-width="1.08"/>
<line x1="640.8" y1="443.7" x2="640.8" y2="447" stroke="#231f20" stroke-width="1.08"/>
<line x1="660.5" y1="443.7" x2="660.5" y2="447" stroke="#231f20" stroke-width="1.08"/>
<line x1="680.2" y1="443.7" x2="680.2" y2="447" stroke="#231f20" stroke-width="1.08"/>
<rect x="564.1" y="442.5" width="7" height="1.2" fill="#555"/>
<rect x="571.1" y="386.8" width="7" height="56.9" fill="#231f20"/>
<line x1="574.6" y1="385.3" x2="574.6" y2="386.8" stroke="#231f20" stroke-width="1"/>
<line x1="571.2" y1="385.3" x2="578" y2="385.3" stroke="#231f20" stroke-width="1"/>
<rect x="583.8" y="442.5" width="7" height="1.2" fill="#555"/>
<rect x="590.8" y="359.6" width="7" height="84.1" fill="#231f20"/>
<line x1="594.3" y1="353.6" x2="594.3" y2="359.6" stroke="#231f20" stroke-width="1"/>
<line x1="590.9" y1="353.6" x2="597.7" y2="353.6" stroke="#231f20" stroke-width="1"/>
<rect x="603.5" y="442.5" width="7" height="1.2" fill="#555"/>
<rect x="610.5" y="366" width="7" height="77.7" fill="#231f20"/>
<line x1="614" y1="362.2" x2="614" y2="366" stroke="#231f20" stroke-width="1"/>
<line x1="610.6" y1="362.2" x2="617.4" y2="362.2" stroke="#231f20" stroke-width="1"/>
<rect x="623.2" y="442.5" width="7" height="1.2" fill="#555"/>
<rect x="630.2" y="383.8" width="7" height="59.9" fill="#231f20"/>
<line x1="633.7" y1="376" x2="633.7" y2="383.8" stroke="#231f20" stroke-width="1"/>
<line x1="630.3" y1="376" x2="637.1" y2="376" stroke="#231f20" stroke-width="1"/>
<rect x="642.9" y="442.5" width="7" height="1.2" fill="#555"/>
<rect x="649.9" y="377.2" width="7" height="66.5" fill="#231f20"/>
<line x1="653.4" y1="371.4" x2="653.4" y2="377.2" stroke="#231f20" stroke-width="1"/>
<line x1="650" y1="371.4" x2="656.8" y2="371.4" stroke="#231f20" stroke-width="1"/>
<rect x="662.6" y="442.5" width="7" height="1.2" fill="#555"/>
<rect x="669.6" y="383.3" width="7" height="60.4" fill="#231f20"/>
<line x1="673.1" y1="376" x2="673.1" y2="383.3" stroke="#231f20" stroke-width="1"/>
<line x1="669.7" y1="376" x2="676.5" y2="376" stroke="#231f20" stroke-width="1"/>
<polyline points="574.5,332.1 574.5,327.6 612.7,327.6 612.7,332.1" fill="none" stroke="#231f20" stroke-width="1.3"/>
<text x="591.4" y="325.98" font-size="11" text-anchor="middle" fill="#231f20">*</text>
<polyline points="576.2,347.4 576.2,343.1 597.2,343.1 597.2,347.4" fill="none" stroke="#231f20" stroke-width="1.3"/>
<text x="588.4" y="343.18" font-size="11" text-anchor="middle" fill="#231f20">*</text>
<rect x="629.3" y="326.9" width="4.8" height="4.8" fill="#d2d2d2" stroke="#231f20" stroke-width="0.8"/>
<text x="636.4" y="333" font-size="10.1">IgG</text>
<rect x="629.2" y="341.8" width="5.2" height="5.2" fill="#231f20"/>
<text x="636.6" y="348.5" font-size="10.2">acetyl-H4</text>
<text x="534.5" y="391.5" font-size="9.5" text-anchor="middle" font-weight="bold" transform="rotate(-90 534.5 391.5)" fill="#231f20" textLength="107.5" lengthAdjust="spacingAndGlyphs">Enrichment over input</text>
<text x="572.55" y="456.3" font-size="9.7" text-anchor="end" transform="rotate(-45 572.55 456.3)">shMOCK</text>
<text x="592.25" y="456.3" font-size="9.7" text-anchor="end" transform="rotate(-45 592.25 456.3)">shARTD1</text>
<text x="611.95" y="456.3" font-size="9.7" text-anchor="end" transform="rotate(-45 611.95 456.3)">shMOCK + Olap</text>
<text x="631.65" y="456.3" font-size="9.7" text-anchor="end" transform="rotate(-45 631.65 456.3)">shMOCK</text>
<text x="651.35" y="456.3" font-size="9.7" text-anchor="end" transform="rotate(-45 651.35 456.3)">shARTD1</text>
<text x="671.05" y="456.3" font-size="9.7" text-anchor="end" transform="rotate(-45 671.05 456.3)">shMOCK + Olap</text>
<line x1="560.2" y1="508.4" x2="606.2" y2="508.4" stroke="#231f20" stroke-width="1.1"/>
<line x1="624.5" y1="508.4" x2="673.2" y2="508.4" stroke="#231f20" stroke-width="1.1"/>
<text x="582" y="527.8" font-size="10.2" text-anchor="middle">IL1β promoter</text>
<text x="649" y="527.8" font-size="10.2" text-anchor="middle">IL6 body</text>
<text x="3.8" y="560.8" font-size="21.5" font-weight="bold" fill="#231f20">H</text>
<text x="118.2" y="556.5" font-size="12.4" text-anchor="middle" font-weight="bold" font-style="italic" fill="#231f20">IL1β</text>
<line x1="71.5" y1="606.1" x2="71.5" y2="708.4" stroke="#231f20" stroke-width="1.2"/>
<line x1="71" y1="707.9" x2="153.4" y2="707.9" stroke="#231f20" stroke-width="1.2"/>
<line x1="68.2" y1="606.6" x2="71.5" y2="606.6" stroke="#231f20" stroke-width="1.08"/>
<text x="62.8" y="610.82" font-size="9.5" text-anchor="end">1.2</text>
<line x1="68.2" y1="640.4" x2="71.5" y2="640.4" stroke="#231f20" stroke-width="1.08"/>
<text x="62.8" y="644.62" font-size="9.5" text-anchor="end">0.8</text>
<line x1="68.2" y1="674.1" x2="71.5" y2="674.1" stroke="#231f20" stroke-width="1.08"/>
<text x="62.8" y="678.32" font-size="9.5" text-anchor="end">0.4</text>
<line x1="68.2" y1="707.9" x2="71.5" y2="707.9" stroke="#231f20" stroke-width="1.08"/>
<text x="62.8" y="712.12" font-size="9.5" text-anchor="end">0.0</text>
<line x1="71.5" y1="707.9" x2="71.5" y2="711.2" stroke="#231f20" stroke-width="1.08"/>
<line x1="98.7" y1="707.9" x2="98.7" y2="711.2" stroke="#231f20" stroke-width="1.08"/>
<line x1="125.8" y1="707.9" x2="125.8" y2="711.2" stroke="#231f20" stroke-width="1.08"/>
<line x1="152.9" y1="707.9" x2="152.9" y2="711.2" stroke="#231f20" stroke-width="1.08"/>
<rect x="78.7" y="623.9" width="13.1" height="84" fill="#231f20"/>
<line x1="85.25" y1="608.4" x2="85.25" y2="623.9" stroke="#231f20" stroke-width="1"/>
<line x1="81.95" y1="608.4" x2="88.55" y2="608.4" stroke="#231f20" stroke-width="1"/>
<rect x="106" y="679.8" width="12.8" height="28.1" fill="#231f20"/>
<line x1="112.4" y1="674.5" x2="112.4" y2="679.8" stroke="#231f20" stroke-width="1"/>
<line x1="108.8" y1="674.5" x2="116" y2="674.5" stroke="#231f20" stroke-width="1"/>
<rect x="133" y="700.3" width="13" height="7.6" fill="#231f20"/>
<line x1="139.5" y1="697.3" x2="139.5" y2="700.3" stroke="#231f20" stroke-width="1"/>
<line x1="136" y1="697.3" x2="143" y2="697.3" stroke="#231f20" stroke-width="1"/>
<polyline points="87.2,585.2 87.2,580.2 143.2,580.2 143.2,585.2" fill="none" stroke="#231f20" stroke-width="1.3"/>
<text x="117.4" y="578.58" font-size="11" text-anchor="middle" fill="#231f20">*</text>
<polyline points="87.2,602.8 87.2,597.8 115,597.8 115,602.8" fill="none" stroke="#231f20" stroke-width="1.3"/>
<text x="102.8" y="597.98" font-size="11" text-anchor="middle" fill="#231f20">*</text>
<text x="39.4" y="657.5" font-size="9.5" text-anchor="middle" font-weight="bold" transform="rotate(-90 39.4 657.5)" fill="#231f20" textLength="95" lengthAdjust="spacingAndGlyphs">Relative expression</text>
<text x="88" y="721.5" font-size="9.7" text-anchor="end" transform="rotate(-45 88 721.5)">shMOCK</text>
<text x="115" y="721.5" font-size="9.7" text-anchor="end" transform="rotate(-45 115 721.5)">shp65</text>
<text x="142.5" y="721.5" font-size="9.7" text-anchor="end" transform="rotate(-45 142.5 721.5)">shp65 + Olap</text>
<text x="174" y="562" font-size="21.5" font-weight="bold" fill="#231f20">I</text>
<rect x="245.1" y="577.1" width="4.4" height="4.4" fill="#d2d2d2" stroke="#231f20" stroke-width="0.8"/>
<text x="251.7" y="583" font-size="9.7">IgG</text>
<rect x="283.5" y="576.7" width="5.2" height="5.2" fill="#231f20"/>
<text x="290.5" y="583" font-size="9.7">p65</text>
<line x1="232.4" y1="605.2" x2="232.4" y2="709" stroke="#231f20" stroke-width="1.2"/>
<line x1="231.9" y1="708.5" x2="324.7" y2="708.5" stroke="#231f20" stroke-width="1.2"/>
<line x1="229.1" y1="605.7" x2="232.4" y2="605.7" stroke="#231f20" stroke-width="1.08"/>
<text x="223.7" y="609.52" font-size="9.5" text-anchor="end">0.25</text>
<line x1="229.1" y1="626.26" x2="232.4" y2="626.26" stroke="#231f20" stroke-width="1.08"/>
<text x="223.7" y="630.08" font-size="9.5" text-anchor="end">0.20</text>
<line x1="229.1" y1="646.82" x2="232.4" y2="646.82" stroke="#231f20" stroke-width="1.08"/>
<text x="223.7" y="650.64" font-size="9.5" text-anchor="end">0.15</text>
<line x1="229.1" y1="667.38" x2="232.4" y2="667.38" stroke="#231f20" stroke-width="1.08"/>
<text x="223.7" y="671.2" font-size="9.5" text-anchor="end">0.10</text>
<line x1="229.1" y1="687.94" x2="232.4" y2="687.94" stroke="#231f20" stroke-width="1.08"/>
<text x="223.7" y="691.76" font-size="9.5" text-anchor="end">0.05</text>
<line x1="229.1" y1="708.5" x2="232.4" y2="708.5" stroke="#231f20" stroke-width="1.08"/>
<text x="223.7" y="712.32" font-size="9.5" text-anchor="end">0.00</text>
<line x1="232.4" y1="708.5" x2="232.4" y2="711.8" stroke="#231f20" stroke-width="1.08"/>
<line x1="255.35" y1="708.5" x2="255.35" y2="711.8" stroke="#231f20" stroke-width="1.08"/>
<line x1="278.3" y1="708.5" x2="278.3" y2="711.8" stroke="#231f20" stroke-width="1.08"/>
<line x1="301.25" y1="708.5" x2="301.25" y2="711.8" stroke="#231f20" stroke-width="1.08"/>
<line x1="324.2" y1="708.5" x2="324.2" y2="711.8" stroke="#231f20" stroke-width="1.08"/>
<rect x="237.75" y="681.95" width="5.95" height="26.55" fill="#e3e3e3" stroke="#231f20" stroke-width="0.7"/>
<line x1="240.73" y1="670.8" x2="240.73" y2="691.8" stroke="#231f20" stroke-width="1"/>
<line x1="237.5" y1="670.8" x2="243.95" y2="670.8" stroke="#231f20" stroke-width="1"/>
<line x1="237.5" y1="691.8" x2="243.95" y2="691.8" stroke="#231f20" stroke-width="1"/>
<rect x="244.05" y="656.8" width="6.65" height="51.7" fill="#231f20"/>
<line x1="247.38" y1="646" x2="247.38" y2="656.8" stroke="#231f20" stroke-width="1"/>
<line x1="244.15" y1="646" x2="250.6" y2="646" stroke="#231f20" stroke-width="1"/>
<rect x="260.55" y="680.35" width="5.95" height="28.15" fill="#e3e3e3" stroke="#231f20" stroke-width="0.7"/>
<rect x="266.85" y="610" width="6.65" height="98.5" fill="#231f20"/>
<line x1="270.18" y1="609" x2="270.18" y2="610" stroke="#231f20" stroke-width="1"/>
<line x1="266.95" y1="609" x2="273.4" y2="609" stroke="#231f20" stroke-width="1"/>
<rect x="283.35" y="676.75" width="5.95" height="31.75" fill="#e3e3e3" stroke="#231f20" stroke-width="0.7"/>
<line x1="286.32" y1="674.3" x2="286.32" y2="678.7" stroke="#231f20" stroke-width="1"/>
<line x1="283.1" y1="674.3" x2="289.55" y2="674.3" stroke="#231f20" stroke-width="1"/>
<line x1="283.1" y1="678.7" x2="289.55" y2="678.7" stroke="#231f20" stroke-width="1"/>
<rect x="289.65" y="662" width="6.65" height="46.5" fill="#231f20"/>
<rect x="306.15" y="678.35" width="5.95" height="30.15" fill="#e3e3e3" stroke="#231f20" stroke-width="0.7"/>
<rect x="312.45" y="669" width="6.65" height="39.5" fill="#231f20"/>
<line x1="315.77" y1="662" x2="315.77" y2="669" stroke="#231f20" stroke-width="1"/>
<line x1="312.55" y1="662" x2="319" y2="662" stroke="#231f20" stroke-width="1"/>
<polyline points="270.5,605.3 270.5,600.7 314.7,600.7 314.7,605.3" fill="none" stroke="#231f20" stroke-width="1.3"/>
<text x="291.6" y="600.38" font-size="11" text-anchor="middle" fill="#231f20">*</text>
<text x="195" y="657" font-size="9.5" text-anchor="middle" font-weight="bold" transform="rotate(-90 195 657)" fill="#231f20" textLength="114" lengthAdjust="spacingAndGlyphs">Enrichment over input</text>
<text x="245.88" y="721" font-size="9.7" text-anchor="end" transform="rotate(-45 245.88 721)">shMOCK</text>
<text x="268.82" y="721" font-size="9.7" text-anchor="end" transform="rotate(-45 268.82 721)">shMOCK + Olap</text>
<text x="291.78" y="721" font-size="9.7" text-anchor="end" transform="rotate(-45 291.78 721)">shp65</text>
<text x="314.73" y="721" font-size="9.7" text-anchor="end" transform="rotate(-45 314.73 721)">shp65 + Olap</text>
<text x="357.3" y="560.8" font-size="21.5" font-weight="bold" fill="#231f20">J</text>
<rect x="424" y="565.8" width="5.2" height="5.2" fill="#231f20"/>
<text x="431" y="572.5" font-size="10.2">shMOCK</text>
<rect x="480.1" y="566.2" width="4.4" height="4.4" fill="#d2d2d2" stroke="#231f20" stroke-width="0.8"/>
<text x="486.7" y="572.5" font-size="10.2">shp65</text>
<line x1="424.9" y1="604.7" x2="424.9" y2="706.5" stroke="#231f20" stroke-width="1.2"/>
<line x1="424.4" y1="706" x2="514.7" y2="706" stroke="#231f20" stroke-width="1.2"/>
<line x1="421.4" y1="605.2" x2="424.9" y2="605.2" stroke="#231f20" stroke-width="1.08"/>
<text x="415.3" y="609.6" font-size="10" text-anchor="end">300</text>
<line x1="421.4" y1="638.8" x2="424.9" y2="638.8" stroke="#231f20" stroke-width="1.08"/>
<text x="415.3" y="643.2" font-size="10" text-anchor="end">200</text>
<line x1="421.4" y1="672.4" x2="424.9" y2="672.4" stroke="#231f20" stroke-width="1.08"/>
<text x="415.3" y="676.8" font-size="10" text-anchor="end">100</text>
<line x1="421.4" y1="706" x2="424.9" y2="706" stroke="#231f20" stroke-width="1.08"/>
<text x="415.3" y="710.4" font-size="10" text-anchor="end">0</text>
<line x1="424.9" y1="706" x2="424.9" y2="709.5" stroke="#231f20" stroke-width="1.08"/>
<line x1="469.6" y1="706" x2="469.6" y2="709.5" stroke="#231f20" stroke-width="1.08"/>
<line x1="514.2" y1="706" x2="514.2" y2="709.5" stroke="#231f20" stroke-width="1.08"/>
<rect x="432.2" y="651.1" width="14.8" height="54.9" fill="#231f20"/>
<line x1="439.6" y1="650.7" x2="439.6" y2="651.1" stroke="#231f20" stroke-width="0.6"/>
<line x1="436.1" y1="650.7" x2="443.1" y2="650.7" stroke="#231f20" stroke-width="0.6"/>
<rect x="447.35" y="682.45" width="14.5" height="23.55" fill="#d2d2d2" stroke="#231f20" stroke-width="0.7"/>
<line x1="454.6" y1="681.6" x2="454.6" y2="682.1" stroke="#231f20" stroke-width="0.6"/>
<line x1="451.1" y1="681.6" x2="458.1" y2="681.6" stroke="#231f20" stroke-width="0.6"/>
<rect x="476.9" y="605.2" width="15" height="100.8" fill="#231f20"/>
<rect x="492.25" y="674.65" width="14.3" height="31.35" fill="#d2d2d2" stroke="#231f20" stroke-width="0.7"/>
<line x1="499.4" y1="673.4" x2="499.4" y2="674.3" stroke="#231f20" stroke-width="0.7"/>
<line x1="495.9" y1="673.4" x2="502.9" y2="673.4" stroke="#231f20" stroke-width="0.7"/>
<polyline points="440.4,600.5 440.4,596 482.8,596 482.8,600.5" fill="none" stroke="#231f20" stroke-width="1.3"/>
<text x="463" y="596.38" font-size="11" text-anchor="middle" fill="#231f20">*</text>
<polyline points="486.4,600.5 486.4,596 501,596 501,600.5" fill="none" stroke="#231f20" stroke-width="1.3"/>
<text x="495.1" y="596.38" font-size="11" text-anchor="middle" fill="#231f20">*</text>
<polyline points="439.3,643.6 439.3,639.2 453.8,639.2 453.8,643.6" fill="none" stroke="#231f20" stroke-width="1.3"/>
<text x="448.3" y="636.68" font-size="11" text-anchor="middle" fill="#231f20">*</text>
<text x="387.5" y="653" font-size="9.5" text-anchor="middle" font-weight="bold" transform="rotate(-90 387.5 653)" fill="#231f20" textLength="118" lengthAdjust="spacingAndGlyphs">Multinucleated cells/well</text>
<text x="450" y="719.7" font-size="10" text-anchor="end" transform="rotate(-45 450 719.7)">siMOCK</text>
<text x="494.6" y="719.7" font-size="10" text-anchor="end" transform="rotate(-45 494.6 719.7)">siARTD1</text>
<rect x="557.5" y="561.9" width="5.2" height="5.2" fill="#231f20"/>
<text x="564.5" y="568.6" font-size="10.2">shMOCK</text>
<rect x="612.6" y="562.3" width="4.4" height="4.4" fill="#d2d2d2" stroke="#231f20" stroke-width="0.8"/>
<text x="619.2" y="568.6" font-size="10.2">shARTD1</text>
<line x1="578.6" y1="601.2" x2="578.6" y2="702.5" stroke="#231f20" stroke-width="1.2"/>
<line x1="578.1" y1="702" x2="664.5" y2="702" stroke="#231f20" stroke-width="1.2"/>
<line x1="575.3" y1="601.7" x2="578.6" y2="601.7" stroke="#231f20" stroke-width="1.08"/>
<text x="569.5" y="605.58" font-size="10.5" text-anchor="end">300</text>
<line x1="575.3" y1="635.1" x2="578.6" y2="635.1" stroke="#231f20" stroke-width="1.08"/>
<text x="569.5" y="638.98" font-size="10.5" text-anchor="end">200</text>
<line x1="575.3" y1="668.6" x2="578.6" y2="668.6" stroke="#231f20" stroke-width="1.08"/>
<text x="569.5" y="672.48" font-size="10.5" text-anchor="end">100</text>
<line x1="575.3" y1="702" x2="578.6" y2="702" stroke="#231f20" stroke-width="1.08"/>
<text x="569.5" y="705.88" font-size="10.5" text-anchor="end">0</text>
<line x1="578.6" y1="702" x2="578.6" y2="705.3" stroke="#231f20" stroke-width="1.08"/>
<line x1="621" y1="702" x2="621" y2="705.3" stroke="#231f20" stroke-width="1.08"/>
<line x1="664" y1="702" x2="664" y2="705.3" stroke="#231f20" stroke-width="1.08"/>
<rect x="585" y="646.4" width="14.6" height="55.6" fill="#231f20"/>
<line x1="592.3" y1="641.7" x2="592.3" y2="646.4" stroke="#231f20" stroke-width="1"/>
<line x1="588.2" y1="641.7" x2="596.4" y2="641.7" stroke="#231f20" stroke-width="1"/>
<rect x="599.95" y="613.15" width="13.7" height="88.85" fill="#d2d2d2" stroke="#231f20" stroke-width="0.7"/>
<line x1="606.8" y1="607" x2="606.8" y2="612.8" stroke="#231f20" stroke-width="1"/>
<line x1="602.7" y1="607" x2="610.9" y2="607" stroke="#231f20" stroke-width="1"/>
<rect x="628.2" y="679.9" width="13.5" height="22.1" fill="#231f20"/>
<line x1="634.95" y1="675.3" x2="634.95" y2="679.9" stroke="#231f20" stroke-width="1"/>
<line x1="631.05" y1="675.3" x2="638.85" y2="675.3" stroke="#231f20" stroke-width="1"/>
<rect x="642.05" y="675.65" width="13.2" height="26.35" fill="#d2d2d2" stroke="#231f20" stroke-width="0.7"/>
<line x1="648.65" y1="672.7" x2="648.65" y2="675.3" stroke="#231f20" stroke-width="1"/>
<line x1="644.75" y1="672.7" x2="652.55" y2="672.7" stroke="#231f20" stroke-width="1"/>
<polyline points="607,584.7 607,580.2 649.5,580.2 649.5,584.7" fill="none" stroke="#231f20" stroke-width="1.3"/>
<text x="632.4" y="580.58" font-size="11" text-anchor="middle" fill="#231f20">*</text>
<polyline points="589,601.8 589,597.3 631.6,597.3 631.6,601.8" fill="none" stroke="#231f20" stroke-width="1.3"/>
<text x="612.2" y="597.58" font-size="11" text-anchor="middle" fill="#231f20">*</text>
<text x="536.2" y="650" font-size="9.5" text-anchor="middle" font-weight="bold" transform="rotate(-90 536.2 650)" fill="#231f20" textLength="118" lengthAdjust="spacingAndGlyphs">Multinucleated cells/well</text>
<text x="601.5" y="716.2" font-size="10" text-anchor="end" transform="rotate(-45 601.5 716.2)">siMOCK</text>
<text x="644" y="716.4" font-size="10" text-anchor="end" transform="rotate(-45 644 716.4)">sip65</text>
<text x="4.5" y="777" font-size="21.5" font-weight="bold" fill="#231f20">K</text>
<text x="112.7" y="789.5" font-size="12.5" text-anchor="middle" font-weight="bold" font-style="italic" fill="#231f20">Nfatc1/A</text>
<line x1="72.4" y1="810.5" x2="72.4" y2="910.8" stroke="#231f20" stroke-width="1.2"/>
<line x1="71.9" y1="910.3" x2="148.1" y2="910.3" stroke="#231f20" stroke-width="1.2"/>
<line x1="69.1" y1="811" x2="72.4" y2="811" stroke="#231f20" stroke-width="1.08"/>
<text x="62.7" y="814.62" font-size="9.5" text-anchor="end">1.5</text>
<line x1="69.1" y1="844.1" x2="72.4" y2="844.1" stroke="#231f20" stroke-width="1.08"/>
<text x="62.7" y="847.72" font-size="9.5" text-anchor="end">1.0</text>
<line x1="69.1" y1="877.2" x2="72.4" y2="877.2" stroke="#231f20" stroke-width="1.08"/>
<text x="62.7" y="880.82" font-size="9.5" text-anchor="end">0.5</text>
<line x1="69.1" y1="910.3" x2="72.4" y2="910.3" stroke="#231f20" stroke-width="1.08"/>
<text x="62.7" y="913.92" font-size="9.5" text-anchor="end">0.0</text>
<line x1="72.4" y1="910.3" x2="72.4" y2="913.6" stroke="#231f20" stroke-width="1.08"/>
<line x1="97.7" y1="910.3" x2="97.7" y2="913.6" stroke="#231f20" stroke-width="1.08"/>
<line x1="122.8" y1="910.3" x2="122.8" y2="913.6" stroke="#231f20" stroke-width="1.08"/>
<line x1="147.6" y1="910.3" x2="147.6" y2="913.6" stroke="#231f20" stroke-width="1.08"/>
<rect x="78.7" y="843.4" width="12.3" height="66.9" fill="#231f20"/>
<line x1="84.85" y1="833.7" x2="84.85" y2="843.4" stroke="#231f20" stroke-width="1"/>
<line x1="81.35" y1="833.7" x2="88.35" y2="833.7" stroke="#231f20" stroke-width="1"/>
<rect x="103.8" y="881.5" width="12.1" height="28.8" fill="#231f20"/>
<line x1="109.85" y1="880.1" x2="109.85" y2="881.5" stroke="#231f20" stroke-width="1"/>
<line x1="106.35" y1="880.1" x2="113.35" y2="880.1" stroke="#231f20" stroke-width="1"/>
<rect x="128.9" y="881" width="12.1" height="29.3" fill="#231f20"/>
<line x1="134.95" y1="879.7" x2="134.95" y2="881" stroke="#231f20" stroke-width="1"/>
<line x1="131.45" y1="879.7" x2="138.45" y2="879.7" stroke="#231f20" stroke-width="1"/>
<polyline points="84.6,816.4 84.6,811.2 134.3,811.2 134.3,816.4" fill="none" stroke="#231f20" stroke-width="1.3"/>
<text x="111.7" y="809.38" font-size="11" text-anchor="middle" fill="#231f20">*</text>
<polyline points="84.6,828.5 84.6,824.7 112.4,824.7 112.4,828.5" fill="none" stroke="#231f20" stroke-width="1.3"/>
<text x="99.5" y="823.28" font-size="11" text-anchor="middle" fill="#231f20">*</text>
<text x="38.6" y="861.5" font-size="9.5" text-anchor="middle" font-weight="bold" transform="rotate(-90 38.6 861.5)" fill="#231f20" textLength="95.5" lengthAdjust="spacingAndGlyphs">Relative expression</text>
<text x="88" y="923" font-size="9.7" text-anchor="end" transform="rotate(-45 88 923)">shMOCK</text>
<text x="113" y="923" font-size="9.7" text-anchor="end" transform="rotate(-45 113 923)">shp65</text>
<text x="138.5" y="923" font-size="9.7" text-anchor="end" transform="rotate(-45 138.5 923)">shp65 + Olap</text>
<text x="242" y="789.5" font-size="12.5" text-anchor="middle" font-weight="bold" font-style="italic" fill="#231f20">Tracp</text>
<line x1="201.3" y1="813.3" x2="201.3" y2="915" stroke="#231f20" stroke-width="1.2"/>
<line x1="200.8" y1="914.5" x2="277.3" y2="914.5" stroke="#231f20" stroke-width="1.2"/>
<line x1="198" y1="813.8" x2="201.3" y2="813.8" stroke="#231f20" stroke-width="1.08"/>
<text x="191.7" y="818.02" font-size="9.5" text-anchor="end">1.5</text>
<line x1="198" y1="847.4" x2="201.3" y2="847.4" stroke="#231f20" stroke-width="1.08"/>
<text x="191.7" y="851.62" font-size="9.5" text-anchor="end">1.0</text>
<line x1="198" y1="880.9" x2="201.3" y2="880.9" stroke="#231f20" stroke-width="1.08"/>
<text x="191.7" y="885.12" font-size="9.5" text-anchor="end">0.5</text>
<line x1="198" y1="914.5" x2="201.3" y2="914.5" stroke="#231f20" stroke-width="1.08"/>
<text x="191.7" y="918.72" font-size="9.5" text-anchor="end">0.0</text>
<line x1="201.3" y1="914.5" x2="201.3" y2="917.8" stroke="#231f20" stroke-width="1.08"/>
<line x1="226.4" y1="914.5" x2="226.4" y2="917.8" stroke="#231f20" stroke-width="1.08"/>
<line x1="251.6" y1="914.5" x2="251.6" y2="917.8" stroke="#231f20" stroke-width="1.08"/>
<line x1="276.8" y1="914.5" x2="276.8" y2="917.8" stroke="#231f20" stroke-width="1.08"/>
<rect x="207.6" y="847.2" width="12.4" height="67.3" fill="#231f20"/>
<line x1="213.8" y1="841.4" x2="213.8" y2="847.2" stroke="#231f20" stroke-width="1"/>
<line x1="210.3" y1="841.4" x2="217.3" y2="841.4" stroke="#231f20" stroke-width="1"/>
<rect x="233" y="892.4" width="12.1" height="22.1" fill="#231f20"/>
<line x1="239.05" y1="883.2" x2="239.05" y2="892.4" stroke="#231f20" stroke-width="1"/>
<line x1="235.55" y1="883.2" x2="242.55" y2="883.2" stroke="#231f20" stroke-width="1"/>
<rect x="258.2" y="913.2" width="11.8" height="1.3" fill="#231f20"/>
<polyline points="213,821.1 213,815.9 262.5,815.9 262.5,821.1" fill="none" stroke="#231f20" stroke-width="1.3"/>
<text x="240.2" y="813.68" font-size="11" text-anchor="middle" fill="#231f20">*</text>
<polyline points="213,833.3 213,828.8 240,828.8 240,833.3" fill="none" stroke="#231f20" stroke-width="1.3"/>
<text x="228" y="827.58" font-size="11" text-anchor="middle" fill="#231f20">*</text>
<text x="172.2" y="864" font-size="9.5" text-anchor="middle" font-weight="bold" transform="rotate(-90 172.2 864)" fill="#231f20" textLength="95.5" lengthAdjust="spacingAndGlyphs">Relative expression</text>
<text x="217" y="927" font-size="9.7" text-anchor="end" transform="rotate(-45 217 927)">shMOCK</text>
<text x="242" y="927" font-size="9.7" text-anchor="end" transform="rotate(-45 242 927)">shp65</text>
<text x="266.8" y="927" font-size="9.7" text-anchor="end" transform="rotate(-45 266.8 927)">shp65 + Olap</text>
<text x="370.6" y="790" font-size="12.5" text-anchor="middle" font-weight="bold" font-style="italic" fill="#231f20">Ctsk</text>
<line x1="329.1" y1="810.7" x2="329.1" y2="912.6" stroke="#231f20" stroke-width="1.2"/>
<line x1="328.6" y1="912.1" x2="415.8" y2="912.1" stroke="#231f20" stroke-width="1.2"/>
<line x1="325.8" y1="811.2" x2="329.1" y2="811.2" stroke="#231f20" stroke-width="1.08"/>
<text x="319.2" y="815.42" font-size="9.5" text-anchor="end">1.5</text>
<line x1="325.8" y1="844.8" x2="329.1" y2="844.8" stroke="#231f20" stroke-width="1.08"/>
<text x="319.2" y="849.02" font-size="9.5" text-anchor="end">1.0</text>
<line x1="325.8" y1="878.5" x2="329.1" y2="878.5" stroke="#231f20" stroke-width="1.08"/>
<text x="319.2" y="882.72" font-size="9.5" text-anchor="end">0.5</text>
<line x1="325.8" y1="912.1" x2="329.1" y2="912.1" stroke="#231f20" stroke-width="1.08"/>
<text x="319.2" y="916.32" font-size="9.5" text-anchor="end">0.0</text>
<line x1="329.1" y1="912.1" x2="329.1" y2="915.4" stroke="#231f20" stroke-width="1.08"/>
<line x1="357.8" y1="912.1" x2="357.8" y2="915.4" stroke="#231f20" stroke-width="1.08"/>
<line x1="386.6" y1="912.1" x2="386.6" y2="915.4" stroke="#231f20" stroke-width="1.08"/>
<line x1="415.3" y1="912.1" x2="415.3" y2="915.4" stroke="#231f20" stroke-width="1.08"/>
<rect x="336.5" y="844.6" width="13.9" height="67.5" fill="#231f20"/>
<line x1="343.45" y1="842.5" x2="343.45" y2="844.6" stroke="#231f20" stroke-width="1"/>
<line x1="339.95" y1="842.5" x2="346.95" y2="842.5" stroke="#231f20" stroke-width="1"/>
<rect x="365.4" y="885.3" width="13.9" height="26.8" fill="#231f20"/>
<line x1="372.35" y1="870.9" x2="372.35" y2="885.3" stroke="#231f20" stroke-width="1"/>
<line x1="368.85" y1="870.9" x2="375.85" y2="870.9" stroke="#231f20" stroke-width="1"/>
<rect x="393.8" y="885.8" width="14.2" height="26.3" fill="#231f20"/>
<line x1="400.9" y1="876.1" x2="400.9" y2="885.8" stroke="#231f20" stroke-width="1"/>
<line x1="397.4" y1="876.1" x2="404.4" y2="876.1" stroke="#231f20" stroke-width="1"/>
<polyline points="345.7,822.5 345.7,817.1 395.6,817.1 395.6,822.5" fill="none" stroke="#231f20" stroke-width="1.3"/>
<text x="372.8" y="816.58" font-size="11" text-anchor="middle" fill="#231f20">*</text>
<polyline points="345.7,835.2 345.7,830.8 373.3,830.8 373.3,835.2" fill="none" stroke="#231f20" stroke-width="1.3"/>
<text x="360.7" y="830.48" font-size="11" text-anchor="middle" fill="#231f20">*</text>
<text x="298" y="861.5" font-size="9.5" text-anchor="middle" font-weight="bold" transform="rotate(-90 298 861.5)" fill="#231f20" textLength="95.5" lengthAdjust="spacingAndGlyphs">Relative expression</text>
<text x="347" y="925" font-size="9.7" text-anchor="end" transform="rotate(-45 347 925)">shMOCK</text>
<text x="375.5" y="925" font-size="9.7" text-anchor="end" transform="rotate(-45 375.5 925)">shp65</text>
<text x="404.5" y="925" font-size="9.7" text-anchor="end" transform="rotate(-45 404.5 925)">shp65 + Olap</text>
</g>
</svg>
</body>
</html>
